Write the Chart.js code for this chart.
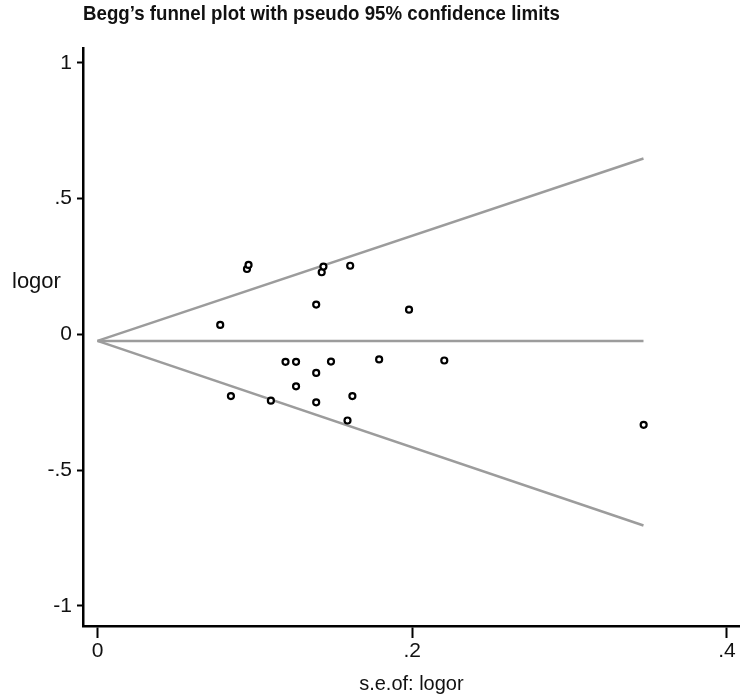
<!DOCTYPE html>
<html>
<head>
<meta charset="utf-8">
<script src="https://cdn.jsdelivr.net/npm/chart.js@4.4.1/dist/chart.umd.min.js"></script>
<style>
    html, body { margin: 0; padding: 0; background: #fff; }
    #wrap { width: 746px; height: 698px; position: relative; }
</style>
</head>
<body>
<div id="wrap"><canvas id="funnelChart"></canvas></div>
<script>
// study points: standard error of log OR vs log OR
const seValues = [0.078, 0.095, 0.096, 0.1425, 0.1436, 0.1606, 0.139, 0.198,
    0.179, 0.2204, 0.0848, 0.1102, 0.1195, 0.1262, 0.1262, 0.1484,
    0.139, 0.139, 0.162, 0.1589, 0.3471];
const logorValues = [0.035, 0.241, 0.256, 0.229, 0.250, 0.253, 0.110, 0.091,
    -0.092, -0.096, -0.227, -0.244, -0.101, -0.101, -0.191, -0.100,
    -0.142, -0.250, -0.227, -0.317, -0.333];

// pooled estimate and pseudo 95% limits (end points)
const limitSe = [0, 0.347];
const pooledLine = [-0.024, -0.024];
const upperLimit = [-0.024, 0.648];
const lowerLimit = [-0.024, -0.704];

const xTicks = [0, 0.2, 0.4];
const xTickLabels = ['0', '.2', '.4'];
const yTicks = [-1, -0.5, 0, 0.5, 1];
const yTickLabels = ['-1', '-.5', '0', '.5', '1'];

const lineColor = '#9c9c9c';
const fontFamily = '"Liberation Sans", Arial, sans-serif';

function toPoints(xs, ys) {
    return xs.map((x, i) => ({ x: x, y: ys[i] }));
}

const textPlugin = {
    id: 'funnelText',
    afterDraw(chart) {
        const ctx = chart.ctx;
        ctx.save();
        ctx.fillStyle = '#111';
        ctx.textBaseline = 'middle';
        ctx.textAlign = 'left';
        // title font in the original is a narrow face, squeeze it a bit
        ctx.save();
        ctx.translate(83, 14);
        ctx.scale(0.89, 1);
        ctx.font = 'bold 21px ' + fontFamily;
        ctx.fillText('Begg\u2019s funnel plot with pseudo 95% confidence limits', 0, 0);
        ctx.restore();
        ctx.font = '22px ' + fontFamily;
        ctx.fillText('logor', 12, 282);
        ctx.restore();
    }
};

const ctx = document.getElementById('funnelChart').getContext('2d');
new Chart(ctx, {
    type: 'scatter',
    data: {
        datasets: [
            {
                label: 'Studies',
                data: toPoints(seValues, logorValues),
                pointRadius: 3,
                pointBorderWidth: 2.2,
                pointBorderColor: '#000',
                pointBackgroundColor: '#fff',
                showLine: false
            },
            {
                label: 'Pooled',
                data: toPoints(limitSe, pooledLine),
                showLine: true,
                borderColor: lineColor,
                borderWidth: 2.5,
                pointRadius: 0
            },
            {
                label: 'Upper limit',
                data: toPoints(limitSe, upperLimit),
                showLine: true,
                borderColor: lineColor,
                borderWidth: 2.5,
                pointRadius: 0
            },
            {
                label: 'Lower limit',
                data: toPoints(limitSe, lowerLimit),
                showLine: true,
                borderColor: lineColor,
                borderWidth: 2.5,
                pointRadius: 0
            }
        ]
    },
    options: {
        responsive: true,
        maintainAspectRatio: false,
        animation: false,
        layout: { padding: { top: 48, right: 0, bottom: 0, left: 0 } },
        plugins: {
            legend: { display: false },
            tooltip: { enabled: false }
        },
        scales: {
            x: {
                type: 'linear',
                min: -0.0092,
                max: 0.4082,
                afterBuildTicks: scale => { scale.ticks = xTicks.map(v => ({ value: v })); },
                afterFit: scale => { scale.height = 72; },
                ticks: {
                    color: '#111',
                    font: { family: fontFamily, size: 21 },
                    padding: 1,
                    maxRotation: 0,
                    callback: (value, index) => xTickLabels[index]
                },
                grid: {
                    drawOnChartArea: false,
                    tickLength: 12,
                    tickWidth: 2,
                    tickColor: '#000'
                },
                border: { display: true, color: '#000', width: 2.5 },
                title: {
                    display: true,
                    text: 's.e.of: logor',
                    color: '#111',
                    font: { family: fontFamily, size: 20 },
                    padding: { top: 0, bottom: 2 }
                }
            },
            y: {
                type: 'linear',
                min: -1.074,
                max: 1.055,
                afterBuildTicks: scale => { scale.ticks = yTicks.map(v => ({ value: v })); },
                afterFit: scale => { scale.width = 83; },
                ticks: {
                    color: '#111',
                    font: { family: fontFamily, size: 21 },
                    padding: 5,
                    callback: (value, index) => yTickLabels[index]
                },
                grid: {
                    drawOnChartArea: false,
                    tickLength: 6,
                    tickWidth: 2,
                    tickColor: '#000'
                },
                border: { display: true, color: '#000', width: 2.5 }
            }
        }
    },
    plugins: [textPlugin]
});
</script>
</body>
</html>
